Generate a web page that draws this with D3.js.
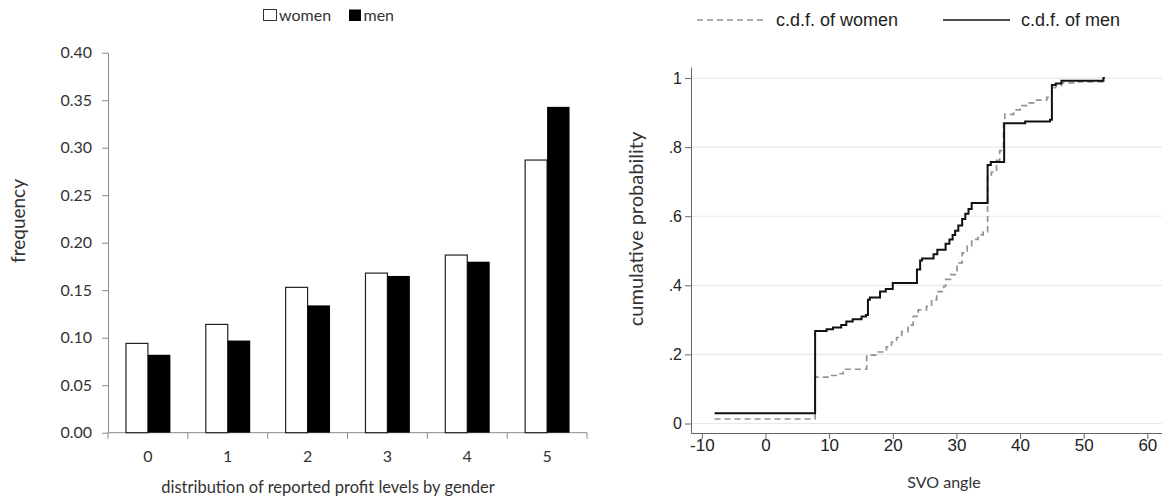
<!DOCTYPE html>
<html>
<head>
<meta charset="utf-8">
<script src="https://cdn.jsdelivr.net/npm/d3@7"></script>
<style>
  body { margin: 0; background: #fff; }
  svg { display: block; }
  .lab { font-family: Lato, "Open Sans", sans-serif; fill: #333; }
  .ari { font-family: "Liberation Sans", Arial, sans-serif; fill: #222; }
</style>
</head>
<body>
<svg id="chart" width="1162" height="499"></svg>
<script>
// left panel: reported profit levels
var levels = ["0", "1", "2", "3", "4", "5"];
var womenFreq = [0.094, 0.114, 0.153, 0.168, 0.187, 0.287];
var menFreq = [0.082, 0.097, 0.134, 0.165, 0.180, 0.343];
var freqTicks = [0, 0.05, 0.10, 0.15, 0.20, 0.25, 0.30, 0.35, 0.40];

// right panel: empirical c.d.f. of SVO angle, [angle, cumulative prob] where each step starts
var menCdf = [
  [-8, 0.03], [7.8, 0.268], [9.6, 0.273], [10.6, 0.278], [11.9, 0.285], [12.7, 0.295],
  [13.7, 0.302], [15.1, 0.31], [15.8, 0.314], [16.1, 0.358], [16.4, 0.365], [18, 0.382],
  [18.9, 0.389], [20, 0.407], [23.8, 0.446], [24.3, 0.472], [24.6, 0.478], [26.4, 0.49],
  [27, 0.503], [28.3, 0.52], [28.9, 0.533], [29.4, 0.546], [29.8, 0.558], [30.3, 0.573],
  [30.9, 0.592], [31.4, 0.607], [31.9, 0.621], [32.4, 0.638], [34.9, 0.748], [35.4, 0.757],
  [37.5, 0.869], [40.8, 0.874], [44.7, 0.879], [45.0, 0.98], [45.6, 0.984], [46.5, 0.992],
  [53.1, 1.0], [53.3, 1.0]
];
var womenCdf = [
  [-8, 0.013], [7.8, 0.134], [10.4, 0.139], [11.4, 0.144], [12.2, 0.157], [15.9, 0.198],
  [17.7, 0.207], [19, 0.222], [19.8, 0.236], [20.6, 0.249], [21.4, 0.266], [22.4, 0.285],
  [23.2, 0.31], [24, 0.329], [25.3, 0.339], [26.1, 0.358], [26.9, 0.382], [28, 0.397],
  [28.3, 0.417], [29.1, 0.431], [30.1, 0.465], [30.9, 0.494], [31.7, 0.514], [32.4, 0.533],
  [33.4, 0.546], [34.2, 0.555], [34.9, 0.72], [35.5, 0.728], [36.3, 0.762], [36.8, 0.79],
  [37.4, 0.869], [37.6, 0.895], [39, 0.908], [40, 0.92], [41.3, 0.928], [42.6, 0.936],
  [44.2, 0.944], [45.0, 0.972], [45.6, 0.978], [46.5, 0.986], [48.9, 0.989], [53.1, 1.0],
  [53.3, 1.0]
];
var angleTicks = [-10, 0, 10, 20, 30, 40, 50, 60];
var probTicks = [0, 0.2, 0.4, 0.6, 0.8, 1];
var probLabels = ["0", ".2", ".4", ".6", ".8", "1"];

var svg = d3.select("#chart");

// ---------- left bar chart ----------
var xL = d3.scaleBand().domain(levels).range([108, 587])
    .paddingInner(0.4375).paddingOuter(0.21875);
var yL = d3.scaleLinear().domain([0, 0.40]).range([432.7, 52.7]);

var left = svg.append("g");

var yAxisL = left.append("g")
    .attr("transform", "translate(108,0)")
    .call(d3.axisLeft(yL).tickValues(freqTicks).tickFormat(d3.format(".2f"))
        .tickSize(6).tickSizeOuter(0).tickPadding(10));
yAxisL.selectAll("line, path").attr("stroke", "#8a8a8a");
yAxisL.selectAll("text").attr("class", "lab").style("font-size", "16px");

// x axis line with ticks on the category boundaries
left.append("line")
    .attr("x1", xL.range()[0]).attr("x2", xL.range()[1])
    .attr("y1", yL(0)).attr("y2", yL(0))
    .attr("stroke", "#8a8a8a");
left.selectAll(".bt")
    .data(d3.range(levels.length + 1))
    .enter().append("line")
    .attr("x1", function (i) { return xL.range()[0] + i * xL.step(); })
    .attr("x2", function (i) { return xL.range()[0] + i * xL.step(); })
    .attr("y1", yL(0)).attr("y2", yL(0) + 6)
    .attr("stroke", "#8a8a8a");

var bw = xL.bandwidth() / 2;

left.selectAll(".wbar")
    .data(womenFreq)
    .enter().append("rect")
    .attr("x", function (d, i) { return xL(levels[i]) + 0.5; })
    .attr("y", function (d) { return yL(d); })
    .attr("width", bw - 0.5)
    .attr("height", function (d) { return yL(0) - yL(d); })
    .attr("fill", "#fff")
    .attr("stroke", "#222")
    .attr("stroke-width", 1.2);

left.selectAll(".mbar")
    .data(menFreq)
    .enter().append("rect")
    .attr("x", function (d, i) { return xL(levels[i]) + bw; })
    .attr("y", function (d) { return yL(d); })
    .attr("width", bw)
    .attr("height", function (d) { return yL(0) - yL(d); })
    .attr("fill", "#000");

left.selectAll(".cat")
    .data(levels)
    .enter().append("text")
    .attr("class", "lab")
    .attr("x", function (d) { return xL(d) + xL.bandwidth() / 2; })
    .attr("y", 462)
    .attr("text-anchor", "middle")
    .style("font-size", "16px")
    .text(function (d) { return d; });

left.append("text")
    .attr("class", "lab")
    .attr("x", 328).attr("y", 493)
    .attr("text-anchor", "middle")
    .style("font-size", "16.5px")
    .text("distribution of reported profit levels by gender");

left.append("text")
    .attr("class", "lab")
    .attr("transform", "translate(25,221) rotate(-90)")
    .attr("text-anchor", "middle")
    .style("font-size", "19px")
    .text("frequency");

// legend
left.append("rect").attr("x", 263.5).attr("y", 9.5).attr("width", 13).attr("height", 11)
    .attr("fill", "#fff").attr("stroke", "#333");
left.append("text").attr("class", "lab").attr("x", 279).attr("y", 20.5)
    .style("font-size", "16px").text("women");
left.append("rect").attr("x", 349).attr("y", 9.5).attr("width", 12).attr("height", 11.5)
    .attr("fill", "#000");
left.append("text").attr("class", "lab").attr("x", 363.5).attr("y", 20.5)
    .style("font-size", "16px").text("men");

// ---------- right c.d.f. chart ----------
var xR = d3.scaleLinear().domain([-11.7, 62.3]).range([691, 1162]);
var yR = d3.scaleLinear().domain([-0.0275, 1.032]).range([433, 67]);

var right = svg.append("g");

right.selectAll(".grid")
    .data(probTicks)
    .enter().append("line")
    .attr("x1", xR.range()[0]).attr("x2", xR.range()[1])
    .attr("y1", function (d) { return yR(d); })
    .attr("y2", function (d) { return yR(d); })
    .attr("stroke", "#e8e8e8")
    .attr("stroke-width", 1.2);

var yAxisR = right.append("g")
    .attr("transform", "translate(691,0)")
    .call(d3.axisLeft(yR).tickValues(probTicks)
        .tickFormat(function (d, i) { return probLabels[i]; })
        .tickSize(6).tickSizeOuter(0).tickPadding(3));
yAxisR.selectAll("line, path").attr("stroke", "#666");
yAxisR.selectAll("text").attr("class", "ari").style("font-size", "16px");

var xAxisR = right.append("g")
    .attr("transform", "translate(0,433)")
    .call(d3.axisBottom(xR).tickValues(angleTicks)
        .tickFormat(function (d) { return String(d); })
        .tickSize(6).tickSizeOuter(0).tickPadding(0));
xAxisR.selectAll("line, path").attr("stroke", "#666");
xAxisR.selectAll("text").attr("class", "ari").style("font-size", "17px");

var step = d3.line()
    .x(function (d) { return xR(d[0]); })
    .y(function (d) { return yR(d[1]); })
    .curve(d3.curveStepAfter);

right.append("path")
    .datum(womenCdf)
    .attr("d", step)
    .attr("fill", "none")
    .attr("stroke", "#939393")
    .attr("stroke-width", 1.7)
    .attr("stroke-dasharray", "6,4");

right.append("path")
    .datum(menCdf)
    .attr("d", step)
    .attr("fill", "none")
    .attr("stroke", "#111")
    .attr("stroke-width", 2);

right.append("text")
    .attr("class", "lab")
    .attr("transform", "translate(643,229) rotate(-90)")
    .attr("text-anchor", "middle")
    .style("font-size", "20px")
    .text("cumulative probability");

right.append("text")
    .attr("class", "lab")
    .attr("x", 944).attr("y", 488)
    .attr("text-anchor", "middle")
    .style("font-size", "16px")
    .text("SVO angle");

// legend
right.append("line").attr("x1", 697).attr("x2", 765).attr("y1", 20).attr("y2", 20)
    .attr("stroke", "#939393").attr("stroke-width", 1.3).attr("stroke-dasharray", "6,4");
right.append("text").attr("class", "ari").attr("x", 776).attr("y", 26)
    .style("font-size", "18px").text("c.d.f. of women");
right.append("line").attr("x1", 943).attr("x2", 1010).attr("y1", 20).attr("y2", 20)
    .attr("stroke", "#111").attr("stroke-width", 1.6);
right.append("text").attr("class", "ari").attr("x", 1021).attr("y", 26)
    .style("font-size", "18px").text("c.d.f. of men");
</script>
</body>
</html>
